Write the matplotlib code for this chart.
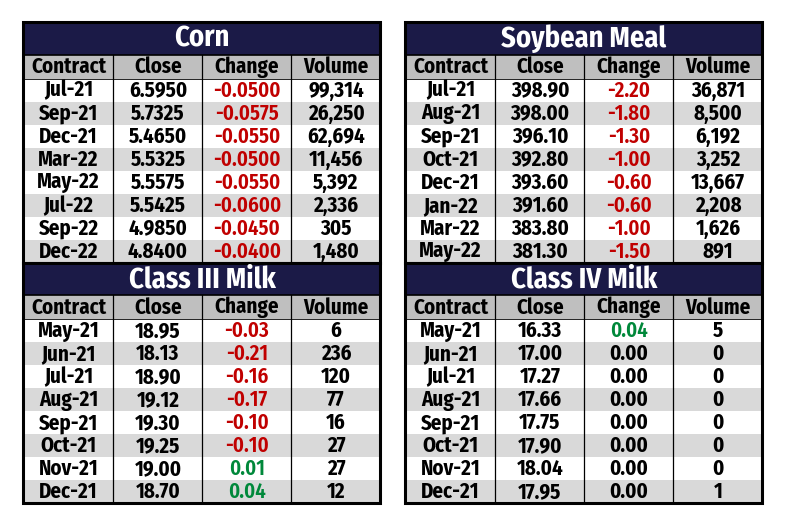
import matplotlib
matplotlib.use("Agg")
import matplotlib.pyplot as plt
from matplotlib.patches import Rectangle

plt.rcParams['font.family'] = ['Fira Sans Condensed', 'DejaVu Sans']

headers = ["Contract", "Close", "Change", "Volume"]

corn_contracts = ["Jul-21", "Sep-21", "Dec-21", "Mar-22", "May-22", "Jul-22", "Sep-22", "Dec-22"]
corn_close = ["6.5950", "5.7325", "5.4650", "5.5325", "5.5575", "5.5425", "4.9850", "4.8400"]
corn_change = ["-0.0500", "-0.0575", "-0.0550", "-0.0500", "-0.0550", "-0.0600", "-0.0450", "-0.0400"]
corn_volume = ["99,314", "26,250", "62,694", "11,456", "5,392", "2,336", "305", "1,480"]

meal_contracts = ["Jul-21", "Aug-21", "Sep-21", "Oct-21", "Dec-21", "Jan-22", "Mar-22", "May-22"]
meal_close = ["398.90", "398.00", "396.10", "392.80", "393.60", "391.60", "383.80", "381.30"]
meal_change = ["-2.20", "-1.80", "-1.30", "-1.00", "-0.60", "-0.60", "-1.00", "-1.50"]
meal_volume = ["36,871", "8,500", "6,192", "3,252", "13,667", "2,208", "1,626", "891"]

c3_contracts = ["May-21", "Jun-21", "Jul-21", "Aug-21", "Sep-21", "Oct-21", "Nov-21", "Dec-21"]
c3_close = ["18.95", "18.13", "18.90", "19.12", "19.30", "19.25", "19.00", "18.70"]
c3_change = ["-0.03", "-0.21", "-0.16", "-0.17", "-0.10", "-0.10", "0.01", "0.04"]
c3_volume = ["6", "236", "120", "77", "16", "27", "27", "12"]

c4_contracts = ["May-21", "Jun-21", "Jul-21", "Aug-21", "Sep-21", "Oct-21", "Nov-21", "Dec-21"]
c4_close = ["16.33", "17.00", "17.27", "17.66", "17.75", "17.90", "18.04", "17.95"]
c4_change = ["0.04", "0.00", "0.00", "0.00", "0.00", "0.00", "0.00", "0.00"]
c4_volume = ["5", "0", "0", "0", "0", "0", "0", "1"]

NAVY = "#1b1a47"
HEAD = "#bfbfbf"
SHADE = "#d9d9d9"
RED = "#c00000"
GREEN = "#00883a"

TITLE_H = 32.5
HEAD_H = 24
ROW_H = 23
COL_W = [90, 89, 89, 89]


def change_color(s):
    v = float(s)
    if v < 0:
        return RED
    if v > 0:
        return GREEN
    return "black"


def draw_table(ax, x0, y0, title, contracts, close, change, volume):
    width = sum(COL_W)
    ax.add_patch(Rectangle((x0, y0), width, TITLE_H, facecolor=NAVY, edgecolor="none"))
    ax.text(x0 + width / 2, y0 + TITLE_H / 2 + 1, title, color="white", fontsize=20.5,
            fontweight="bold", ha="center", va="center")
    y = y0 + TITLE_H
    ax.add_patch(Rectangle((x0, y), width, HEAD_H, facecolor=HEAD, edgecolor="none"))
    xs = [x0]
    for w in COL_W:
        xs.append(xs[-1] + w)
    for i, h in enumerate(headers):
        ax.text((xs[i] + xs[i + 1]) / 2, y + HEAD_H / 2 + 0.5, h, fontsize=15,
                fontweight="bold", ha="center", va="center")
    y += HEAD_H
    for r in range(len(contracts)):
        fc = "white" if r % 2 == 0 else SHADE
        ax.add_patch(Rectangle((x0, y), width, ROW_H, facecolor=fc, edgecolor="none"))
        vals = [contracts[r], close[r], change[r], volume[r]]
        cols = ["black", "black", change_color(change[r]), "black"]
        for i, v in enumerate(vals):
            ax.text((xs[i] + xs[i + 1]) / 2, y + ROW_H / 2 + 0.5, v, fontsize=15,
                    fontweight="bold" if cols[i] == "black" else "semibold",
                    ha="center", va="center", color=cols[i])
        y += ROW_H
    # grid lines
    top = y0 + TITLE_H
    for xv in xs[1:-1]:
        ax.plot([xv, xv], [top, y], color="black", lw=0.9)
    ax.plot([x0, x0 + width], [top, top], color="black", lw=1.2)
    ax.plot([x0, x0 + width], [top + HEAD_H, top + HEAD_H], color="black", lw=0.6)
    ax.add_patch(Rectangle((x0, y0), width, y - y0, facecolor="none", edgecolor="black", lw=2.2))
    return y


fig = plt.figure(figsize=(7.88, 5.25), dpi=100)
ax = fig.add_axes([0, 0, 1, 1])
ax.set_xlim(0, 788)
ax.set_ylim(525, 0)
ax.axis("off")

yb = draw_table(ax, 23.5, 22, "Corn", corn_contracts, corn_close, corn_change, corn_volume)
draw_table(ax, 23.5, yb, "Class III Milk", c3_contracts, c3_close, c3_change, c3_volume)
yb = draw_table(ax, 405.5, 22, "Soybean Meal", meal_contracts, meal_close, meal_change, meal_volume)
draw_table(ax, 405.5, yb, "Class IV Milk", c4_contracts, c4_close, c4_change, c4_volume)

fig.savefig("out.png", dpi=100)
